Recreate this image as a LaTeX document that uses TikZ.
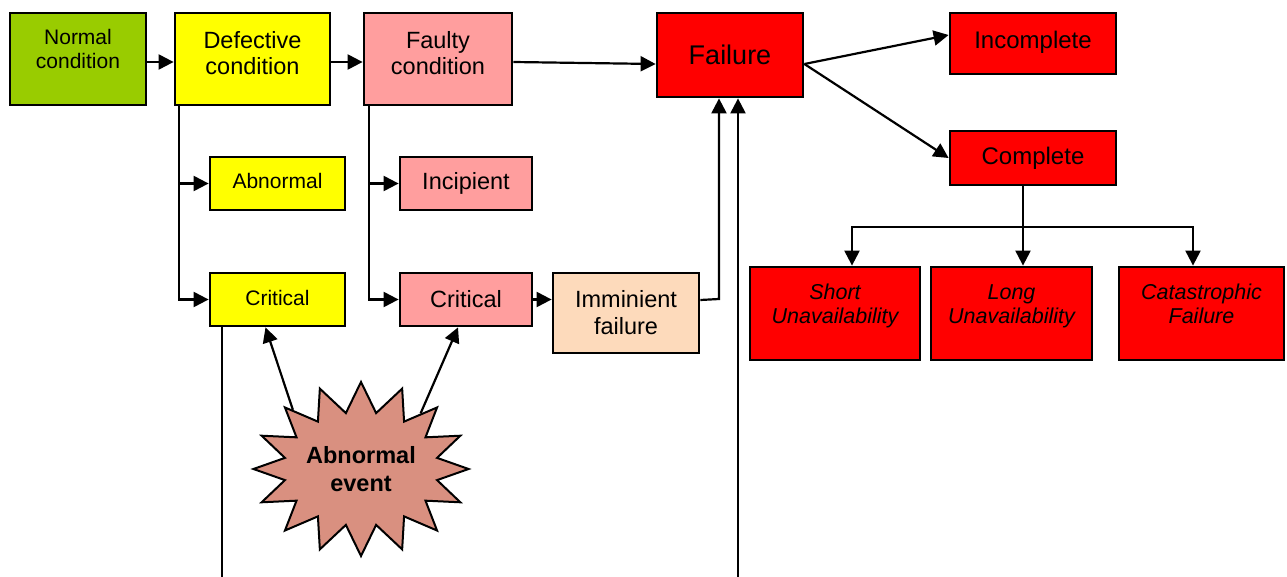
\documentclass[tikz,border=0pt]{standalone}
\usepackage{fontspec}
\setmainfont{Liberation Sans}
\usetikzlibrary{arrows.meta, shapes.symbols, calc}

\definecolor{okgreen}{RGB}{153,204,0}
\definecolor{defyellow}{RGB}{255,255,0}
\definecolor{faultpink}{RGB}{255,158,158}
\definecolor{failred}{RGB}{255,0,0}
\definecolor{peach}{RGB}{253,218,187}
\definecolor{burstbrown}{RGB}{217,144,128}

\newcommand{\fsz}[2]{\fontsize{#1}{#2}\selectfont}

\tikzset{
  box/.style={draw, line width=2.8pt, align=center, inner sep=2pt},
  link/.style={line width=2.2pt},
  arr/.style={link, -{Triangle[length=15pt,width=15pt]}},
  burst/.style={draw, line width=2pt, shape=starburst, starburst points=16,
    random starburst=0, starburst point height=30pt, fill=burstbrown,
    inner sep=0pt, align=center, font={\fsz{23.5}{28}\bfseries}},
}

\begin{document}
\begin{tikzpicture}[x=1pt, y=-1pt]
  \useasboundingbox (0,0) rectangle (1287,577);

  % top row of conditions
  \node[box, fill=okgreen, minimum width=136, minimum height=92, text depth=21,
        font=\fsz{21}{24}] (normal) at (78,59) {Normal\\condition};
  \node[box, fill=defyellow, minimum width=155, minimum height=92, text depth=12,
        font=\fsz{23.5}{26}] (defective) at (252.5,59) {Defective\\condition};
  \node[box, fill=faultpink, minimum width=148, minimum height=92, text depth=12,
        font=\fsz{23.5}{26}] (faulty) at (438,59) {Faulty\\condition};
  \node[box, fill=failred, minimum width=146, minimum height=84,
        font=\fsz{27}{30}] (failure) at (730,55) {Failure};

  % failure modes
  \node[box, fill=failred, minimum width=166, minimum height=61, text depth=7,
        font=\fsz{24}{27}] (incomplete) at (1033,43.5) {Incomplete};
  \node[box, fill=failred, minimum width=166, minimum height=54, text depth=4,
        font=\fsz{24}{27}] (complete) at (1033,158) {Complete};
  \node[box, fill=failred, minimum width=170, minimum height=93, text depth=19,
        font=\fsz{21.5}{24}\itshape] (short) at (835,313.5) {Short\\Unavailability};
  \node[box, fill=failred, minimum width=161, minimum height=93, text depth=19,
        font=\fsz{21.5}{24}\itshape] (long) at (1011.5,313.5) {Long\\Unavailability};
  \node[box, fill=failred, minimum width=165, minimum height=93, text depth=19,
        font=\fsz{21.5}{24}\itshape] (catas) at (1201.5,313.5) {Catastrophic\\Failure};

  % sub-states of defective / faulty
  \node[box, fill=defyellow, minimum width=135, minimum height=53, text depth=5,
        font=\fsz{21}{24}] (abnormal) at (277.5,183.5) {Abnormal};
  \node[box, fill=defyellow, minimum width=135, minimum height=53, text depth=4,
        font=\fsz{21}{24}] (critY) at (277.5,299.5) {Critical};
  \node[box, fill=faultpink, minimum width=132, minimum height=53, text depth=5,
        font=\fsz{23.5}{26}] (incipient) at (466,183.5) {Incipient};
  \node[box, fill=faultpink, minimum width=132, minimum height=53, text depth=2,
        font=\fsz{23.5}{26}] (critP) at (466,299.5) {Critical};
  \node[box, fill=peach, minimum width=146, minimum height=80,
        font=\fsz{23.5}{27}] (imminent) at (626,313) {Imminient\\failure};

  % abnormal event
  \node[burst, minimum width=214pt, minimum height=174pt] (event) at (361,469) {Abnormal\\event};

  % free ends at the lower edge
  \coordinate (dropA) at (222,577);
  \coordinate (dropB) at (738,577);
  \coordinate (riser) at (719,299);
  \coordinate (split) at (1023,227);

  % main chain
  \draw[arr] ([yshift=-3]normal.east) -- ([yshift=-3]defective.west);
  \draw[arr] ([yshift=-3]defective.east) -- ([yshift=-3]faulty.west);
  \draw[arr] ([yshift=-3]faulty.east) -- ([yshift=-9]failure.west);

  % branches below defective and faulty
  \draw[arr] ([xshift=5]defective.south west) |- (abnormal.west);
  \draw[arr] ([xshift=5]defective.south west) |- (critY.west);
  \draw[arr] ([xshift=6]faulty.south west) |- (incipient.west);
  \draw[arr] ([xshift=6]faulty.south west) |- (critP.west);
  \draw[arr] (critP.east) -- (critP.east -| imminent.west);
  \draw[arr] ([yshift=13]imminent.east) -- (riser) -- (riser |- failure.south);
  \draw[link] (critY.south -| dropA) -- (dropA);
  \draw[arr] (dropB) -- (dropB |- failure.south);

  % abnormal event hits both critical states
  \draw[arr] (event.139) -- ([xshift=-12]critY.south);
  \draw[arr] (event.43) -- ([xshift=-8]critP.south);

  % failure split
  \draw[arr] ([yshift=-9]failure.east) -- ([yshift=8.5]incomplete.west);
  \draw[arr] ([yshift=-9]failure.east) -- (complete.west);
  \draw[link] (split |- complete.south) -- (split);
  \draw[arr] (split) -| ([xshift=17]short.north);
  \draw[arr] (split) -- (split |- long.north);
  \draw[arr] (split) -| ([xshift=-8.5]catas.north);
\end{tikzpicture}
\end{document}
